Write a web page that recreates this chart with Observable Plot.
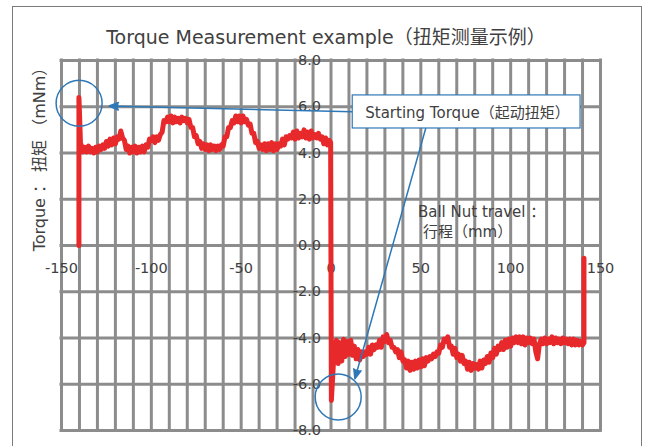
<!DOCTYPE html>
<html>
<head>
<meta charset="utf-8">
<script src="https://cdn.jsdelivr.net/npm/d3@7"></script>
<script src="https://cdn.jsdelivr.net/npm/@observablehq/plot@0.6"></script>
<style>
  html, body { margin: 0; padding: 0; background: #fff; overflow: hidden; }
  #wrap { position: relative; width: 648px; height: 446px; }
  #border { position: absolute; left: 12px; top: 6px; width: 630px; height: 480px;
            border: 1px solid #7a7a7a; box-sizing: border-box; }
  #chart { position: absolute; left: 0; top: 0; }
</style>
</head>
<body>
<div id="wrap"><div id="border"></div><div id="chart"></div></div>
<script>
// Grid and tick values
const xGrid = [-150, -140, -130, -120, -110, -100, -90, -80, -70, -60, -50, -40, -30, -20, -10,
               0, 10, 20, 30, 40, 50, 60, 70, 80, 90, 100, 110, 120, 130, 140, 150];
const yGrid = [-8, -6, -4, -2, 0, 2, 4, 6, 8];
const xTickLabels = [-150, -100, -50, 0, 50, 100, 150];
const yTickLabels = [8, 6, 4, 2, 0, -2, -4, -6, -8];

// Torque trace: [travel (mm), torque (mNm)]
const startPulse = [[-140.3, 0], [-140.3, 6.4], [-139.8, 5.3], [-139.4, 4.3]];
const forwardRun = [
  [-139,4.35],[-138,4.05],[-137,4.25],[-136,4.05],[-135,4.3],[-134,4.05],[-133,4.2],[-132,4.0],[-131,4.25],[-130,4.05],[-129,4.3],
  [-128,4.15],[-127,4.35],[-126,4.2],[-125,4.5],[-124,4.3],
  [-123,4.6],[-122,4.35],[-121,4.65],[-120,4.4],[-119,4.7],
  [-118,4.6],[-117,4.95],[-116,4.65],
  [-115,4.55],[-114,4.15],[-113,4.3],
  [-112,4.0],[-111,4.25],[-110,4.05],[-109,4.3],[-108,4.0],[-107,4.25],[-106,4.05],[-105,4.3],[-104,4.05],[-103,4.35],
  [-102,4.25],[-101,4.6],[-100,4.55],[-99,4.7],[-98,4.45],
  [-97,4.7],[-96,4.55],[-95,4.8],[-94,4.9],[-93,5.4],
  [-92,5.35],[-91,5.55],[-90,5.35],[-89,5.6],[-88,5.3],[-87,5.55],[-86,5.35],[-85,5.5],[-84,5.3],[-83,5.55],[-82,5.4],[-81,5.5],[-80,5.3],[-79,5.45],
  [-78,5.1],[-77,5.1],[-76,4.7],[-75,4.75],[-74,4.4],[-73,4.5],
  [-72,4.2],[-71,4.4],[-70,4.15],[-69,4.35],[-68,4.1],[-67,4.35],[-66,4.15],[-65,4.3],[-64,4.1],[-63,4.3],[-62,4.15],[-61,4.35],
  [-60,4.3],[-59,4.7],[-58,4.7],[-57,5.1],[-56,5.1],[-55,5.4],
  [-54,5.3],[-53,5.6],[-52,5.35],[-51,5.6],[-50,5.3],[-49,5.6],[-48,5.35],[-47,5.45],[-46,5.2],
  [-45,5.25],[-44,4.85],[-43,4.85],[-42,4.45],[-41,4.5],
  [-40,4.2],[-39,4.35],[-38,4.15],[-37,4.4],[-36,4.1],[-35,4.4],[-34,4.15],[-33,4.45],[-32,4.1],[-31,4.4],[-30,4.15],[-29,4.4],
  [-28,4.3],[-27,4.6],[-26,4.35],[-25,4.7],[-24,4.6],[-23,4.75],
  [-22,4.65],[-21,4.9],[-20,4.6],[-19,4.95],[-18,4.65],[-17,4.85],[-16,4.7],[-15,5.0],[-14,4.65],[-13,4.9],[-12,4.6],[-11,4.95],
  [-10,4.65],[-9,4.8],[-8,4.65],[-7,4.85],[-6,4.6],
  [-5,4.7],[-4,4.4],[-3,4.65],[-2,4.35],[-1,4.55]
];
const reversal = [[-0.2, 4.45], [0.2, -6.7], [1.2, -5.3], [2.0, -4.3]];
const returnRun = [
  [3,-4.1],[4,-5.1],[5,-4.2],[6,-5.0],[7,-4.05],[8,-4.8],[9,-4.15],[10,-4.7],[11,-4.1],[12,-4.75],[13,-4.35],[14,-4.9],[15,-4.5],[16,-4.95],[17,-4.6],
  [18,-4.8],[19,-4.6],[20,-4.7],[21,-4.4],[22,-4.7],[23,-4.3],[24,-4.5],[25,-4.3],[26,-4.4],[27,-4.1],[28,-4.4],[29,-3.95],[30,-4.15],
  [31,-3.85],[32,-4.2],[33,-4.1],[34,-4.4],[35,-4.4],[36,-4.6],[37,-4.5],[38,-4.85],[39,-4.6],[40,-5.0],
  [41,-4.95],[42,-5.3],[43,-5.0],[44,-5.4],[45,-5.05],[46,-5.35],[47,-5.0],[48,-5.3],[49,-4.95],[50,-5.25],
  [51,-4.9],[52,-5.2],[53,-4.85],[54,-5.0],[55,-4.8],[56,-4.9],[57,-4.7],[58,-4.8],[59,-4.6],
  [60,-4.65],[61,-4.3],[62,-4.4],[63,-4.05],[64,-4.15],[65,-3.95],
  [66,-4.4],[67,-4.35],[68,-4.7],[69,-4.45],[70,-4.85],[71,-4.7],[72,-5.0],[73,-4.75],[74,-5.1],
  [75,-5.0],[76,-5.35],[77,-5.05],[78,-5.4],[79,-5.1],[80,-5.3],[81,-5.15],[82,-5.35],[83,-5.0],[84,-5.3],[85,-4.95],
  [86,-5.1],[87,-4.8],[88,-5.05],[89,-4.65],[90,-4.85],[91,-4.45],[92,-4.7],[93,-4.35],[94,-4.5],
  [95,-4.2],[96,-4.5],[97,-4.1],[98,-4.4],[99,-4.05],[100,-4.35],[101,-4.0],
  [102,-4.2],[103,-3.95],[104,-4.2],[105,-3.95],[106,-4.25],[107,-3.95],[108,-4.3],[109,-4.0],[110,-4.2],[111,-4.0],
  [112,-4.25],[113,-4.05],[114,-4.6],[115,-4.9],[116,-4.25],[117,-4.05],[118,-4.25],[119,-4.0],[120,-4.25],
  [121,-4.05],[122,-4.2],[123,-3.95],[124,-4.25],[125,-4.0],[126,-4.2],[127,-4.05],[128,-4.25],[129,-4.0],[130,-4.2],
  [131,-4.05],[132,-4.25],[133,-4.05],[134,-4.3],[135,-4.05],[136,-4.3],[137,-4.1],[138,-4.3],[139,-4.15],[140,-4.3]
];
const endPulse = [[140.8, -4.2], [140.8, -0.55]];

// Annotations (data coordinates)
const rings = [{x: -140.2, y: 6.15}, {x: 4.0, y: -6.55}];
const calloutBox = [{x1: 12.1, x2: 138.9, y1: 5.06, y2: 6.49}];
const calloutText = [{x: 76.0, y: 5.74, label: "Starting Torque（起动扭矩）"}];
const pointers = [
  {x1: 12.1, y1: 5.78, x2: -123.5, y2: 6.03},
  {x1: 52.7, y1: 5.06, x2: 13.3, y2: -5.76}
];
const travelNote = [
  {x: 48.4, y: 1.44, label: "Ball Nut travel ："},
  {x: 51.2, y: 0.575, label: "行程（mm）"}
];
const title = "Torque Measurement example（扭矩测量示例）";
const yTitle = "Torque ： 扭矩 （mNm）";

const trace = [...startPulse, ...forwardRun, ...reversal, ...returnRun, ...endPulse]
  .map(([travel, torque]) => ({travel, torque}));

const gridColor = "#8c8c8c";
const textColor = "#404040";
const blue = "#2f78b7";
const red = "#e8292b";

const chart = Plot.plot({
  width: 648,
  height: 446,
  marginLeft: 61,
  marginRight: 48,
  marginTop: 60,
  marginBottom: 16,
  x: {domain: [-150, 150], axis: null},
  y: {domain: [-8, 8], axis: null},
  style: {
    fontFamily: "'DejaVu Sans', 'Noto Sans CJK SC', sans-serif",
    fontSize: "14.5px",
    color: textColor,
    background: "transparent"
  },
  marks: [
    Plot.ruleX(xGrid, {stroke: gridColor, strokeWidth: 3, strokeLinecap: "square"}),
    Plot.ruleY(yGrid, {stroke: gridColor, strokeWidth: 3, strokeLinecap: "square"}),
    Plot.text(yTickLabels, {x: 0, y: d => d, text: d => d.toFixed(1), textAnchor: "end", dx: -10, fill: textColor}),
    Plot.text(xTickLabels, {x: d => d, y: 0, text: d => String(d), dy: 23, fill: textColor}),
    Plot.line(trace, {x: "travel", y: "torque", stroke: red, strokeWidth: 5, strokeLinejoin: "round"}),
    Plot.text(travelNote, {x: "x", y: "y", text: "label", textAnchor: "start", fontSize: 15, fill: textColor}),
    Plot.dot(rings, {x: "x", y: "y", r: 23, stroke: blue, strokeWidth: 1.5, fill: "none"}),
    Plot.arrow(pointers, {x1: "x1", y1: "y1", x2: "x2", y2: "y2", stroke: blue, fill: blue,
                          strokeWidth: 1.5, headLength: 10, headAngle: 44}),
    Plot.rect(calloutBox, {x1: "x1", x2: "x2", y1: "y1", y2: "y2", fill: "white", stroke: blue, strokeWidth: 1.2}),
    Plot.text(calloutText, {x: "x", y: "y", text: "label", fontSize: 15, fill: textColor}),
    Plot.text([title], {frameAnchor: "top", dy: -30, dx: -5, fontSize: 19, fill: textColor}),
    Plot.text([yTitle], {frameAnchor: "left", textAnchor: "middle", rotate: -90, dx: -22, dy: -90, fontSize: 16, fill: textColor})
  ]
});

document.getElementById("chart").appendChild(chart);
</script>
</body>
</html>
